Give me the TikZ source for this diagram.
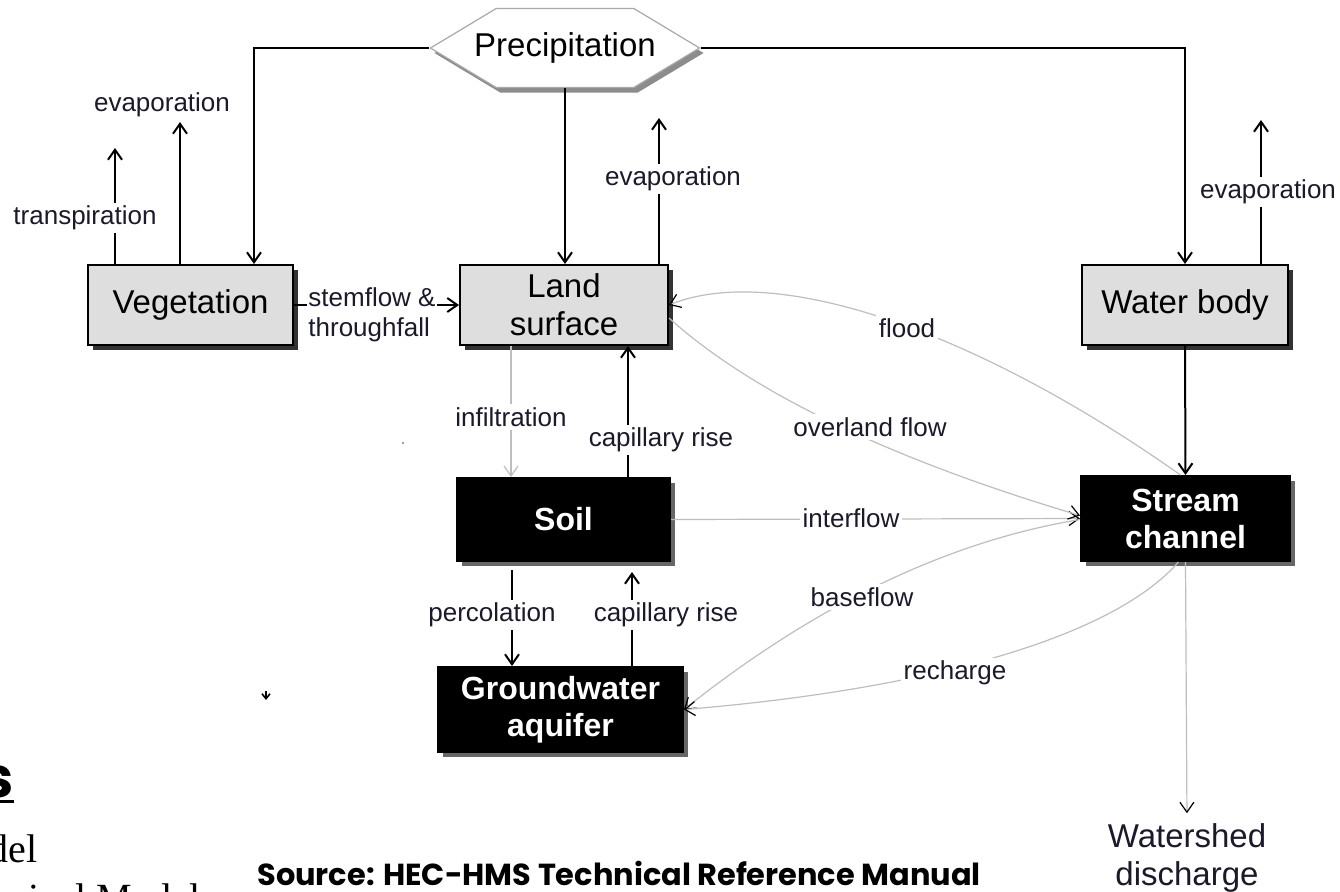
\documentclass[tikz,border=0pt]{standalone}
\usepackage{fontspec}
\setmainfont{Liberation Sans}
\newfontfamily\slideserif{Liberation Serif}
\newfontfamily\slidegoth{Poppins}
\usetikzlibrary{arrows.meta,positioning,shapes.symbols,shadows,calc}
\definecolor{boxgray}{HTML}{DEDEDE}
\definecolor{hexline}{HTML}{A8A8A8}
\definecolor{flowgray}{HTML}{BEBEBE}
\definecolor{ink}{HTML}{1A1A2A}
\tikzset{
  lightbox/.style={draw=black,fill=boxgray,line width=1pt,
                   minimum height=40pt,align=center,inner sep=2pt,
                   font=\fontsize{16.5}{19}\selectfont,
                   drop shadow={shadow xshift=2.5pt,shadow yshift=-2.5pt,fill=black,opacity=.8}},
  darkbox/.style={draw=black,fill=black,text=white,line width=1pt,
                  minimum height=42.5pt,align=center,inner sep=2pt,
                  font=\fontsize{16}{18.5}\selectfont\bfseries,
                  drop shadow={shadow xshift=2.5pt,shadow yshift=-2.5pt,fill=black,opacity=.6}},
  hexbox/.style={signal,signal to=west and east,signal pointer angle=62,
                 draw=hexline,fill=white,line width=0.6pt,
                 minimum height=39.5pt,inner xsep=-11pt,inner ysep=1pt,
                 font=\fontsize{16.5}{19}\selectfont,
                 drop shadow={shadow xshift=2pt,shadow yshift=-2.5pt,fill=black,opacity=.45}},
  flowlbl/.style={fill=white,inner sep=1.5pt,text=ink,align=left,
                  font=\fontsize{13}{15}\selectfont},
  blackarr/.style={-{Straight Barb[length=5pt,width=7pt]},line width=1pt},
  greyarr/.style={-{Straight Barb[length=5pt,width=7pt,color=black]},
                  line width=0.6pt,draw=flowgray},
  palearr/.style={-{Straight Barb[length=5pt,width=7pt]},line width=0.6pt,draw=flowgray}
}
\begin{document}
\begin{tikzpicture}[x=0.5pt,y=-0.5pt]
  \useasboundingbox[fill=white] (0,0) rectangle (1340,891);
  % compartments
  \node[hexbox] (prec) at (565,48) {Precipitation};
  \node[lightbox,minimum width=102.5pt] (veg) at (190.5,305) {Vegetation};
  \node[lightbox,minimum width=104pt] (land) at (564,305) {Land\\surface};
  \node[lightbox,minimum width=103pt] (water) at (1185,305) {Water body};
  \node[darkbox,minimum width=106.5pt,minimum height=41.5pt] (soil) at (563.5,519.5) {Soil};
  \node[darkbox,minimum width=122.5pt] (gw) at (560.5,709.5) {Groundwater\\aquifer};
  \node[darkbox,minimum width=104.5pt] (stream) at (1185.5,518.5) {Stream\\channel};
  \node[align=center,inner sep=1pt,text=ink,font=\fontsize{16.5}{19}\selectfont] (outlet) at (1187,858) {Watershed\\discharge};
  \coordinate (vegtr) at (115,148);
  \coordinate (vegev) at (180,122);
  \coordinate (landev) at (659,118);
  \coordinate (waterev) at (1261,120);
  \coordinate (infil) at (511,417);
  \coordinate (caprise) at (628,440);
  \coordinate (perc) at (512,615);
  \coordinate (capriseb) at (632,615);
  % vertical exchanges
  \draw[blackarr] (prec.west) -| ($(veg.north)+(63.5,0)$);
  \draw[blackarr] (prec.east) -| (water.north);
  \draw[blackarr] (prec.south) -- (prec.south |- land.north);
  \draw[blackarr] (veg.north -| vegtr) -- (vegtr);
  \draw[blackarr] (veg.north -| vegev) -- (vegev);
  \draw[blackarr] (land.north -| landev) -- (landev);
  \draw[blackarr] (water.north -| waterev) -- (waterev);
  \draw[blackarr] (veg.east) -- (land.west);
  \draw[blackarr] (water.south) -- (stream.north);
  \draw[palearr] (land.south -| infil) -- (soil.north -| infil);
  \draw[blackarr] (soil.north -| caprise) -- (land.south -| caprise);
  \draw[blackarr,shorten <=4pt] (soil.south -| perc) -- (gw.north -| perc);
  \draw[blackarr,shorten >=5pt] (gw.north -| capriseb) -- (soil.south -| capriseb);
  % lateral flows
  \draw[greyarr] (soil.east) -- (stream.west);
  \draw[greyarr] ($(land.east)+(0,13)$) .. controls (760,400) and (910,465) .. ($(stream.west)+(0,-3)$);
  \draw[greyarr] ($(stream.north)+(-5,0)$) .. controls (975,330) and (775,262) .. (land.east);
  \draw[greyarr] ($(stream.west)+(0,1)$) .. controls (925,545) and (790,625) .. (gw.east);
  \draw[greyarr] ($(stream.south)+(-7,0)$) .. controls (1110,640) and (920,690) .. (gw.east);
  \draw[greyarr,shorten >=4pt] (stream.south) -- (outlet.north);
  % labels
  \node[flowlbl] (lvegev) at (162,105) {evaporation};
  \node[flowlbl] (lvegtr) at (85,218) {transpiration};
  \node[flowlbl] (llandev) at (673,179) {evaporation};
  \node[flowlbl] (lwaterev) at (1268,192) {evaporation};
  \node[flowlbl,inner sep=0.5pt] (lstem) at (372,315) {stemflow \&\\throughfall};
  \node[flowlbl] (lflood) at (907,328) {flood};
  \node[flowlbl] (linfil) at (infil) {infiltration};
  \node[flowlbl] (lcap) at (661,440) {capillary rise};
  \node[flowlbl] (lover) at (870,427) {overland flow};
  \node[flowlbl] (linter) at (851,518) {interflow};
  \node[flowlbl] (lbase) at (862,597) {baseflow};
  \node[flowlbl] (lrech) at (955,673) {recharge};
  \node[flowlbl] (lperc) at (492,615) {percolation};
  \node[flowlbl] (lcapb) at (666,615) {capillary rise};
  % slide fragments
  \draw[-{Straight Barb[length=2.5pt,width=4pt]},line width=0.8pt] (266,691) -- (266,700);
  \fill[gray] (403,443) circle (1.2);
  \node[anchor=base east,inner sep=0pt,font=\slidegoth\bfseries\fontsize{28}{30}\selectfont] (headfrag) at (14,797) {s};
  \draw[line width=1.5pt] (0,801) -- (14,801);
  \node[anchor=base east,inner sep=0pt,font=\slideserif\fontsize{20}{24}\selectfont] (bodyfrag) at (38,862) {del};
  \node[anchor=base west,inner sep=0pt,font=\slideserif\fontsize{20}{24}\selectfont] (bodyfragb) at (28,911) {ical Model};
  \node[anchor=base west,inner sep=0pt,font=\slidegoth\bfseries\fontsize{15.2}{17}\selectfont] (source) at (257,885) {Source: HEC-HMS Technical Reference Manual};
\end{tikzpicture}
\end{document}
